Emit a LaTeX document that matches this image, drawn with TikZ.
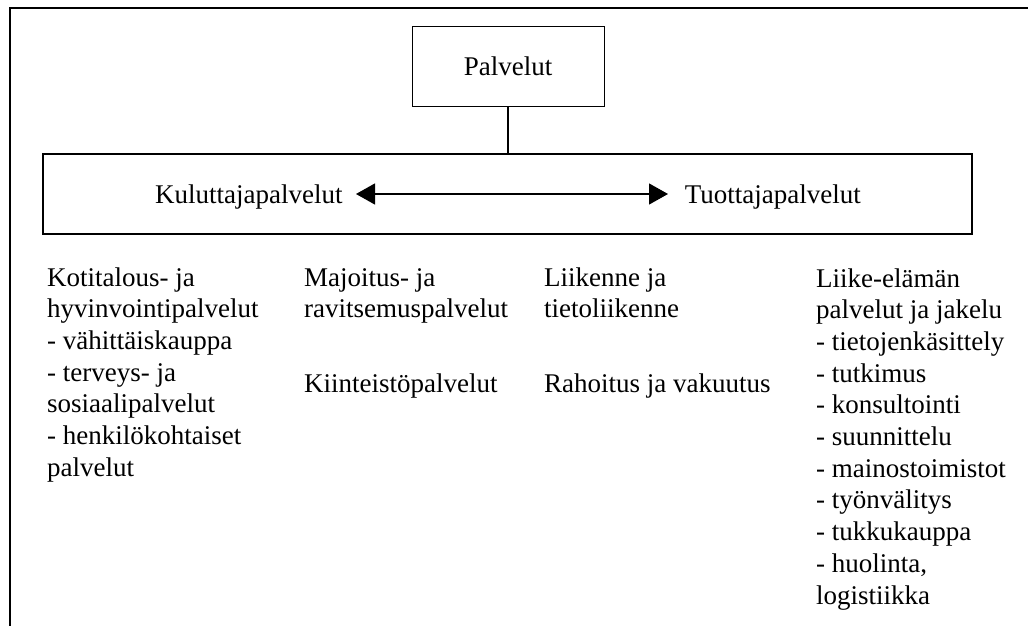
\documentclass[tikz,border=0pt]{standalone}
\usepackage{fontspec}
\setmainfont{Liberation Serif}
\usetikzlibrary{arrows.meta}
\tikzset{
  boxstyle/.style={draw=black, line width=1.2pt, inner sep=0pt},
  lbl/.style={anchor=base west, inner sep=0pt, font=\fontsize{27}{31.7}\selectfont},
  frame/.style={line width=2.6pt, draw=black},
  dblarrow/.style={line width=1.3pt, {Triangle[length=19pt,width=21pt]}-{Triangle[length=19pt,width=21pt]}}
}
\begin{document}
\begin{tikzpicture}[x=1pt,y=-1pt]
\useasboundingbox (0,0) rectangle (1028,626);
% outer frame (top and left edges)
\coordinate (ftr) at (1028,8);
\coordinate (ftl) at (10,8);
\coordinate (fbl) at (10,626);
\draw[frame] (ftr) -- (ftl) -- (fbl);
% top box
\node[boxstyle, line width=1pt, minimum width=192pt, minimum height=79pt,
      font=\fontsize{27}{31.7}\selectfont] (pal) at (508,66.5) {Palvelut};
% main box
\node[boxstyle, minimum width=929pt, minimum height=80pt] (main) at (507.5,194) {};
\draw[line width=1.2pt] (pal.south) -- (pal.south |- main.north);
% labels inside main box
\node[lbl] (kul) at (155,203) {Kuluttajapalvelut};
\node[lbl, anchor=base east] (tuo) at (861,203) {Tuottajapalvelut};
\coordinate (al) at (356,194);
\coordinate (ar) at (668,194);
\draw[dblarrow] (al) -- (ar);
% column 1
\node[lbl] (c1a) at (47,286.0) {Kotitalous- ja};
\node[lbl] (c1b) at (47,317.7) {hyvinvointipalvelut};
\node[lbl] (c1c) at (47,349.4) {- vähittäiskauppa};
\node[lbl] (c1d) at (47,381.1) {- terveys- ja};
\node[lbl] (c1e) at (47,412.8) {sosiaalipalvelut};
\node[lbl] (c1f) at (47,444.5) {- henkilökohtaiset};
\node[lbl] (c1g) at (47,476.2) {palvelut};
% column 2
\node[lbl] (c2a) at (304,286.0) {Majoitus- ja};
\node[lbl] (c2b) at (304,317.7) {ravitsemuspalvelut};
\node[lbl] (c2c) at (304,392.0) {Kiinteistöpalvelut};
% column 3
\node[lbl] (c3a) at (544,286.0) {Liikenne ja};
\node[lbl] (c3b) at (544,317.7) {tietoliikenne};
\node[lbl] (c3c) at (544,392.0) {Rahoitus ja vakuutus};
% column 4
\node[lbl] (c4a) at (816,287.0) {Liike-elämän};
\node[lbl] (c4b) at (816,318.7) {palvelut ja jakelu};
\node[lbl] (c4c) at (816,350.4) {- tietojenkäsittely};
\node[lbl] (c4d) at (816,382.1) {- tutkimus};
\node[lbl] (c4e) at (816,413.8) {- konsultointi};
\node[lbl] (c4f) at (816,445.5) {- suunnittelu};
\node[lbl] (c4g) at (816,477.2) {- mainostoimistot};
\node[lbl] (c4h) at (816,508.9) {- työnvälitys};
\node[lbl] (c4i) at (816,540.6) {- tukkukauppa};
\node[lbl] (c4j) at (816,572.3) {- huolinta,};
\node[lbl] (c4k) at (816,604.0) {logistiikka};
\end{tikzpicture}
\end{document}
